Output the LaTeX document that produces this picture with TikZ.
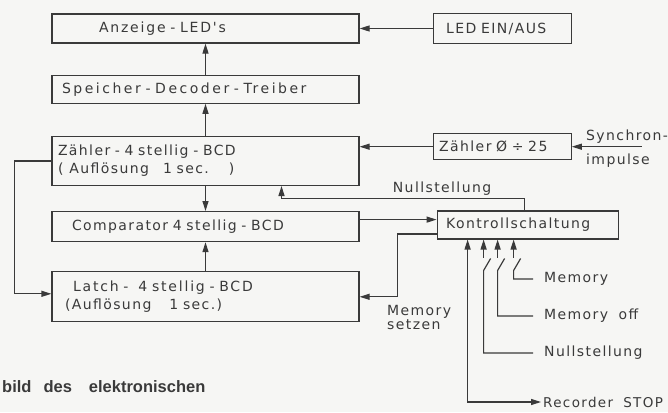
\documentclass[tikz,border=0pt]{standalone}
\usepackage{fontspec}
\usepackage{tikz}
\usetikzlibrary{arrows.meta,positioning,calc}
\newfontfamily\schrift[LetterSpace=10, WordSpace=1.8]{DejaVu Sans}
\newfontfamily\schriftmittel[LetterSpace=13, WordSpace=1.8]{DejaVu Sans}
\newfontfamily\schriftweit[LetterSpace=18, WordSpace=1.8]{DejaVu Sans}
\newfontfamily\capfont{Liberation Sans}
\definecolor{ink}{RGB}{58,58,58}
\definecolor{paper}{RGB}{246,246,244}

\begin{document}
\begin{tikzpicture}[
    x=1pt, y=-1pt,
    >={Triangle[length=10pt,width=6pt]},
    font=\schrift\fontsize{14}{18}\selectfont,
    block/.style={
        rectangle,
        draw=ink,
        text=ink,
        line width=1.2pt,
        text width=#1,
        inner xsep=6pt,
        inner ysep=0pt,
        align=left
    },
    block/.default=295pt,
    lbl/.style={
        text=ink,
        inner sep=2pt,
        align=left
    },
    swlbl/.style={
        lbl,
        anchor=west,
        inner xsep=11pt
    },
    arr/.style={
        ->,
        line width=1.2pt,
        draw=ink
    },
    wire/.style={
        line width=1.2pt,
        draw=ink
    }
]

% Page
\useasboundingbox (0,0) rectangle (668,412);
\fill[paper] (0,0) rectangle (668,412);

% Left column: display chain
\node[block, minimum height=29pt] (anzeige) at (205.5,28.5) {
    \hspace*{41pt}{\schriftmittel Anzeige - LED's}
};

\node[block, minimum height=28pt, below=31pt of anzeige] (speicher) {
    \hspace*{4pt}{\schriftweit Speicher - Decoder - Treiber}
};

\node[block, minimum height=49pt, below=32pt of speicher] (zaehler) {
    Zähler - 4 stellig - BCD\\
    (\hspace{6pt}Auflösung\hspace{14pt}1 sec.\hspace{20pt})
};

\node[block, minimum height=30pt, below=25pt of zaehler] (comparator) {
    \hspace*{14pt}Comparator 4 stellig - BCD
};

\node[block, minimum height=50pt, below=29pt of comparator] (latch) {
    \hspace*{15pt}{\schriftmittel Latch -\hspace{10pt}4 stellig - BCD}\\
    \hspace*{7pt}(Auflösung\hspace{18pt}1 sec.)
};

% Right column: inputs and control
\node[block=126pt, minimum height=30pt, right=73pt of anzeige] (led) {\hspace*{7pt}LED EIN/AUS};

\node[block=126pt, minimum height=26pt, below=89pt of led] (teiler) {Zähler Ø ÷ 25};

\node[block=169pt, minimum height=28pt, below right=50pt and 4pt of teiler.south west] (kontroll) {
    \hspace*{3pt}Kontrollschaltung
};

% Labels
\coordinate (syncin) at ($(teiler.east)+(70,0)$);
\node[lbl, anchor=west] (synclbl) at (584,149) {Synchron-\\[6pt]impulse};
\node[swlbl] (memlbl) at (533,279) {Memory};
\node[swlbl] (offlbl) at (533,316) {Memory off};
\node[swlbl] (nulllbl) at (533,353) {Nullstellung};
\node[lbl, anchor=west, font=\schrift\fontsize{13.5}{16}\selectfont] (reclbl) at (541,402) {Recorder STOP};

\node[anchor=base west, inner sep=0pt, text=ink, font=\capfont\bfseries\fontsize{16.5}{18}\selectfont] (caption) at (2,392) {
    bild\hspace{12pt}des\hspace{17pt}elektronischen
};

% Main data path
\draw[arr] (speicher) -- (anzeige);
\draw[arr] (zaehler) -- (speicher);
\draw[arr] (zaehler) -- (comparator);
\draw[arr] (latch) -- (comparator);
\draw[arr] (led) -- (anzeige);
\draw[arr] (teiler.west) -- (teiler.west -| zaehler.east);
\draw[arr] (syncin) -- (teiler.east);

% Counter -> Latch (left loop)
\draw[arr] (zaehler.west) -- ++(-37,0) |- ([yshift=3pt]latch.west);

% Comparator -> Kontrollschaltung
\draw[arr] ([yshift=7pt]comparator.east) -- ([yshift=7pt]comparator.east -| kontroll.west);

% Kontrollschaltung -> Zaehler reset
\draw[arr] ([xshift=-3pt]kontroll.north) -- ++(0,-12) -| node[lbl, pos=0.17, above] (nulltop) {Nullstellung} ([xshift=76pt]zaehler.south);

% Kontrollschaltung -> Latch
\draw[arr] ([yshift=-9pt]kontroll.west) -- ++(-39,0) |- node[lbl, pos=0.5, anchor=north west, xshift=-13pt, yshift=-6pt] (memset) {Memory\\[-4pt]setzen} (latch.east);

% Switch inputs
\draw[arr, <->] ([xshift=31pt]kontroll.south west) |- (reclbl.west);
\foreach \dx/\lab in {47/nulllbl, 61/offlbl, 77/memlbl} {
    \draw[arr] ([xshift=\dx pt, yshift=-18pt]kontroll.south west) -- ([xshift=\dx pt]kontroll.south west);
    \draw[wire] (\lab.west) -| ([xshift=\dx pt, yshift=-31pt]kontroll.south west) -- ++(7,-12);
}

\end{tikzpicture}
\end{document}
